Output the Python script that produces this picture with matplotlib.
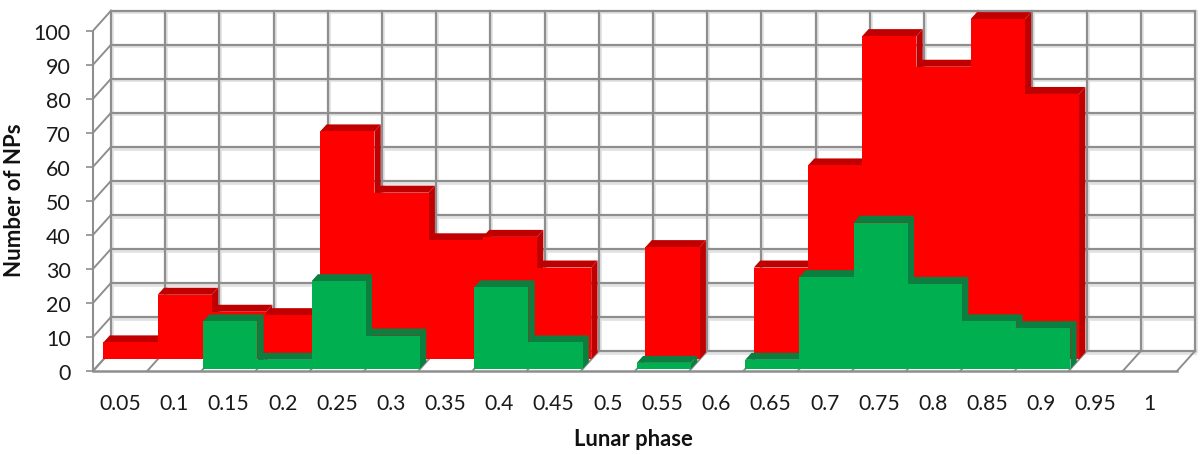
import matplotlib
matplotlib.use("Agg")
import matplotlib.pyplot as plt
import numpy as np

phases = ["0.05", "0.1", "0.15", "0.2", "0.25", "0.3", "0.35", "0.4", "0.45", "0.5",
          "0.55", "0.6", "0.65", "0.7", "0.75", "0.8", "0.85", "0.9", "0.95", "1"]
all_nps = [5, 19, 14, 13, 67, 49, 35, 36, 27, 0, 33, 0, 27, 57, 95, 86, 100, 78, 0, 0]
day_nps = [0, 0, 14, 2.7, 25.8, 9.8, 0, 24, 7.8, 0, 1.8, 0, 2.7, 27, 43, 25, 14, 12, 0, 0]
y_ticks = np.arange(0, 101, 10)

GRID = "#8e8e8e"
HALO = "#e2e2e2"

# figure is 1200x456, all sizes below come from pixels on the reference
PX_X = 54.2   # pixels per category
PX_Y = 3.403  # pixels per count
DEPTH_X = 18 / PX_X
DEPTH_Y = 20 / PX_Y
N = len(phases)


def draw_walls(ax):
    xb = np.arange(N + 1) - 0.5
    for v in y_ticks:
        ax.plot([xb[0] + DEPTH_X, xb[-1] + DEPTH_X], [v + DEPTH_Y - 0.5] * 2, color=HALO, lw=2, zorder=1)
        ax.plot([xb[0] + DEPTH_X, xb[-1] + DEPTH_X], [v + DEPTH_Y] * 2, color=GRID, lw=1.6, zorder=2)
        ax.plot([xb[0], xb[0] + DEPTH_X], [v, v + DEPTH_Y], color=GRID, lw=1.4, zorder=2)
    for x in xb:
        ax.plot([x + DEPTH_X + 0.02] * 2, [DEPTH_Y, 100 + DEPTH_Y], color=HALO, lw=2, zorder=1)
        ax.plot([x + DEPTH_X] * 2, [DEPTH_Y, 100 + DEPTH_Y], color=GRID, lw=1.6, zorder=2)
        ax.plot([x, x + DEPTH_X], [0, DEPTH_Y], color=GRID, lw=1.4, zorder=2)


def draw_row(ax, values, front, back, face, shade, zorder):
    """Draw one row of 3D looking bars, left to right so each one covers the side of the last."""
    x0, y0 = front * DEPTH_X, front * DEPTH_Y
    dx, dy = (back - front) * DEPTH_X, (back - front) * DEPTH_Y
    for i, v in enumerate(values):
        if v == 0:
            continue
        left = i - 0.5 + x0
        right = left + 1
        top = v + y0
        ax.fill([left, right, right + dx, left + dx], [top, top, top + dy, top + dy],
                color=shade, lw=0, zorder=zorder + i * 0.01)
        ax.fill([right, right + dx, right + dx, right], [y0, y0 + dy, top + dy, top],
                color=shade, lw=0, zorder=zorder + i * 0.01)
        ax.bar(left + 0.5, v, width=1, bottom=y0, color=face, lw=0, zorder=zorder + i * 0.01 + 0.001)


plt.rcParams["font.family"] = ["Lato", "DejaVu Sans"]
fig = plt.figure(figsize=(12, 4.56), dpi=100)
ax = fig.add_axes([93 / 1200, 84 / 456, 1107 / 1200, 372 / 456])
ax.set_xlim(-0.5, -0.5 + 1107 / PX_X)
ax.set_ylim(0, 372 / PX_Y)

draw_walls(ax)
draw_row(ax, all_nps, 0.58, 0.93, "#ff0000", "#c00000", 3)
draw_row(ax, day_nps, 0.10, 0.45, "#00b050", "#0a7f3f", 4)

ax.set_xticks(np.arange(N))
ax.set_xticklabels(phases)
ax.set_yticks(y_ticks)
ax.tick_params(axis="x", length=0, pad=16, labelsize=15.2, labelcolor="#1a1a1a")
ax.tick_params(axis="y", length=5, width=1.2, color=GRID, pad=11, labelsize=15.4, labelcolor="#1a1a1a")

for side in ["top", "right"]:
    ax.spines[side].set_visible(False)
ax.spines["left"].set_color(GRID)
ax.spines["left"].set_linewidth(1.5)
ax.spines["left"].set_bounds(0, 100)
ax.spines["bottom"].set_color(GRID)
ax.spines["bottom"].set_linewidth(1.8)
ax.spines["bottom"].set_bounds(-0.5, N - 0.5)

ax.set_xlabel("Lunar phase", fontweight="bold", fontsize=15.8, color="#111111")
ax.xaxis.set_label_coords((633 - 93) / 1107, -(440 - 372) / 372, transform=ax.transAxes)
ax.xaxis.label.set_verticalalignment("center")
ax.set_ylabel("Number of NPs", fontweight="bold", fontsize=16, color="#111111")
ax.yaxis.set_label_coords((15 - 93) / 1107, (372 - 200) / 372, transform=ax.transAxes)
ax.yaxis.label.set_verticalalignment("center")

fig.savefig("out.png", dpi=100)
